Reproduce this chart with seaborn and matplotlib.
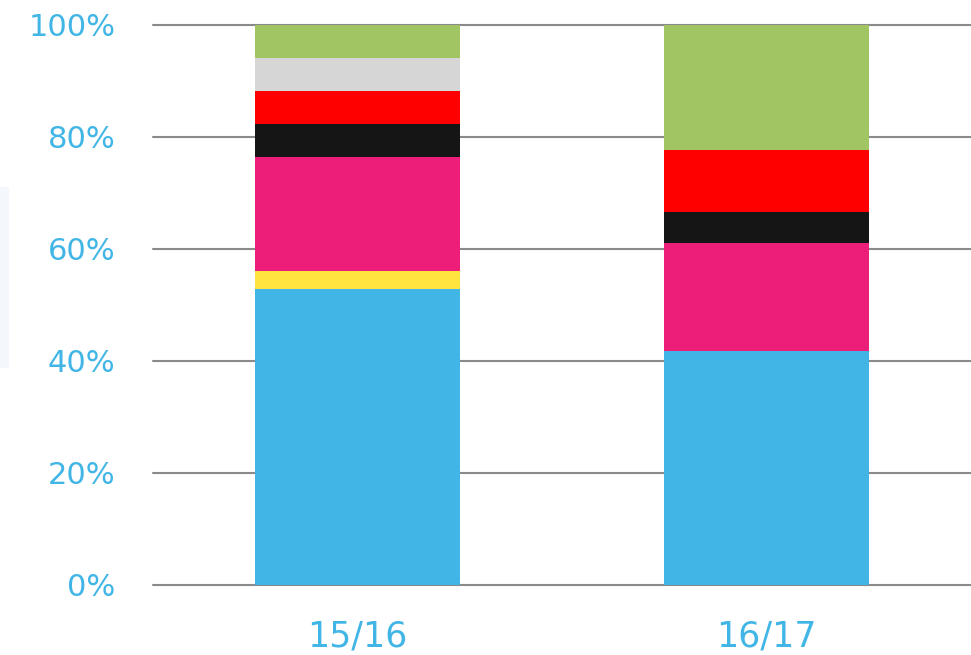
import pandas as pd
import seaborn as sns
import matplotlib.pyplot as plt
from matplotlib.patches import Rectangle
from matplotlib.ticker import PercentFormatter

# share of each segment per season, bottom to top (percent)
seasons = ["15/16", "16/17"]
blue = [52.9, 41.7]
yellow = [3.1, 0.0]
pink = [20.5, 19.4]
black = [5.9, 5.5]
red = [5.9, 11.1]
grey = [5.8, 0.0]
green = [5.9, 22.3]

segments = [blue, yellow, pink, black, red, grey, green]
colours = ["#41b6e6", "#ffe33f", "#ec1e79", "#151515", "#ff0000", "#d6d6d6", "#a2c563"]
label_colour = "#41b6e6"

sns.set_style("white")
plt.rcParams["font.family"] = ["DejaVu Sans"]

fig = plt.figure(figsize=(9.71, 6.55), dpi=100)
ax = fig.add_axes([153 / 971, 70 / 655, 818 / 971, 560 / 655])

# stacked bars: draw the cumulative totals from the top layer down
df = pd.DataFrame({"season": seasons})
running = [0.0] * len(seasons)
tops = []
for seg in segments:
    running = [r + v for r, v in zip(running, seg)]
    tops.append(running)

for top, col in reversed(list(zip(tops, colours))):
    df["value"] = top
    sns.barplot(data=df, x="season", y="value", color=col, width=0.5,
                linewidth=0, saturation=1, ax=ax, zorder=3)

ax.set_xlim(-0.5, 1.5)
ax.set_ylim(0, 100)
ax.set_yticks([0, 20, 40, 60, 80, 100])
ax.yaxis.set_major_formatter(PercentFormatter(decimals=0))
ax.yaxis.grid(True, color="#8a8a8a", linewidth=1.5, zorder=0)
for gl in ax.get_ygridlines():
    gl.set_clip_on(False)
ax.set_axisbelow(True)
sns.despine(ax=ax, left=True, bottom=True, right=True, top=True)
ax.set_xlabel("")
ax.set_ylabel("")
ax.tick_params(axis="y", length=0, pad=27, labelsize=22, labelcolor=label_colour)
ax.tick_params(axis="x", length=0, pad=25, labelsize=25, labelcolor=label_colour)

# faint panel edge at the far left
fig.patches.append(Rectangle((0, (655 - 367) / 655), 8 / 971, 180 / 655,
                             transform=fig.transFigure, color="#f4f8fd", zorder=0))

fig.savefig("out.png", dpi=100)
